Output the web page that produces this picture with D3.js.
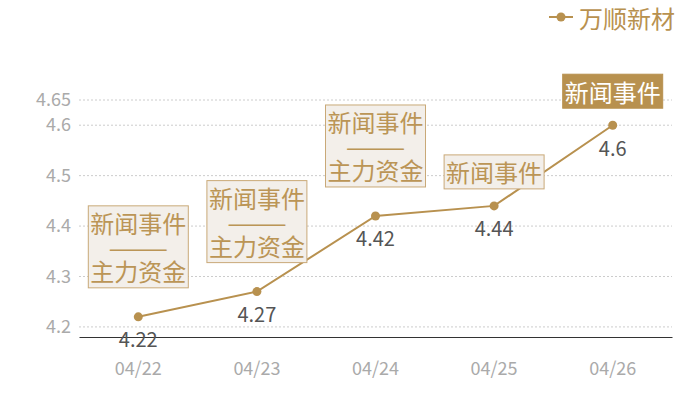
<!DOCTYPE html>
<html>
<head>
<meta charset="utf-8">
<script src="https://cdn.jsdelivr.net/npm/d3@7"></script>
<style>
  body { margin: 0; background: #fff; }
  svg text { font-family: "Noto Sans CJK SC", "Noto Sans", sans-serif; }
</style>
</head>
<body>
<svg id="chart" width="700" height="400"></svg>
<script>
// data
const dates = ["04/22", "04/23", "04/24", "04/25", "04/26"];
const prices = [4.22, 4.27, 4.42, 4.44, 4.6];
const yTicks = [4.2, 4.3, 4.4, 4.5, 4.6, 4.65];
const notes = [
    ["新闻事件", "———", "主力资金"],
    ["新闻事件", "———", "主力资金"],
    ["新闻事件", "———", "主力资金"],
    ["新闻事件"],
    ["新闻事件"]
];
const highlighted = [false, false, false, false, true];
const seriesName = "万顺新材";

var gold = "#b8914f";
// plot area (note: "top" is a reserved window prop, so use plot*)
var plotLeft = 79, plotRight = 672, plotTop = 100, plotBottom = 337;

var svg = d3.select("#chart");

var x = d3.scaleBand()
    .domain(dates)
    .range([plotLeft, plotRight])
    .padding(0);

var y = d3.scaleLinear()
    .domain([4.18, 4.65])
    .range([plotBottom, plotTop]);

// grid lines
svg.append("g")
    .selectAll("line")
    .data(yTicks)
    .join("line")
    .attr("x1", plotLeft)
    .attr("x2", plotRight)
    .attr("y1", d => y(d))
    .attr("y2", d => y(d))
    .attr("stroke", "#cccccc")
    .attr("stroke-dasharray", "2,2");

// y axis (labels only)
var yAxis = d3.axisLeft(y)
    .tickValues(yTicks)
    .tickFormat(d => String(+d.toFixed(2)))
    .tickSize(0)
    .tickPadding(8);
var gy = svg.append("g").attr("transform", "translate(" + plotLeft + ",0)").call(yAxis);
gy.select(".domain").remove();
gy.selectAll("text")
    .attr("fill", "#aaaaaa")
    .style("font-size", "18px");

// x axis
var xAxis = d3.axisBottom(x).tickSize(0).tickPadding(25);
var gx = svg.append("g").attr("transform", "translate(0," + plotBottom + ")").call(xAxis);
gx.select(".domain").attr("stroke", "#333").attr("stroke-width", 1);
gx.selectAll("text")
    .attr("fill", "#aaaaaa")
    .style("font-size", "18px");

// line
var pts = dates.map((d, i) => [x(d) + x.bandwidth() / 2, y(prices[i])]);
svg.append("path")
    .datum(pts)
    .attr("d", d3.line())
    .attr("fill", "none")
    .attr("stroke", gold)
    .attr("stroke-width", 2);

svg.append("g")
    .selectAll("circle")
    .data(pts)
    .join("circle")
    .attr("cx", d => d[0])
    .attr("cy", d => d[1])
    .attr("r", 4.5)
    .attr("fill", gold);

// value labels
svg.append("g")
    .selectAll("text")
    .data(pts)
    .join("text")
    .attr("x", d => d[0])
    .attr("y", d => d[1] + 22)
    .attr("text-anchor", "middle")
    .attr("dominant-baseline", "central")
    .attr("fill", "#555555")
    .style("font-size", "20px")
    .text((d, i) => prices[i]);

// annotation boxes
var boxW = 100, lineH = 24, pad = 5;
notes.forEach(function(lines, i) {
    var px = pts[i][0], py = pts[i][1];
    var h = lines.length * lineH + pad * 2;
    var gap = lines.length > 1 ? 29 : 17;
    var by = py - gap - h;
    var hl = highlighted[i];
    var g = svg.append("g");
    g.append("rect")
        .attr("x", px - boxW / 2)
        .attr("y", by)
        .attr("width", boxW)
        .attr("height", h)
        .attr("fill", hl ? gold : "#f3efea")
        .attr("stroke", hl ? gold : "#c9a978")
        .attr("stroke-width", 1);
    g.selectAll("text")
        .data(lines)
        .join("text")
        .attr("x", px)
        .attr("y", (d, j) => by + pad + lineH * j + lineH / 2)
        .attr("text-anchor", "middle")
        .attr("dominant-baseline", "central")
        .attr("fill", hl ? "#ffffff" : "#bb9556")
        .style("font-size", "24px")
        .text(d => d);
});

// legend
var lg = svg.append("g").attr("transform", "translate(549,17)");
lg.append("line").attr("x1", 0).attr("x2", 24).attr("y1", 0).attr("y2", 0)
    .attr("stroke", gold).attr("stroke-width", 2);
lg.append("circle").attr("cx", 12).attr("cy", 0).attr("r", 4.5).attr("fill", gold);
lg.append("text")
    .attr("x", 30)
    .attr("y", 0)
    .attr("dominant-baseline", "central")
    .attr("fill", gold)
    .style("font-size", "24px")
    .text(seriesName);
</script>
</body>
</html>
